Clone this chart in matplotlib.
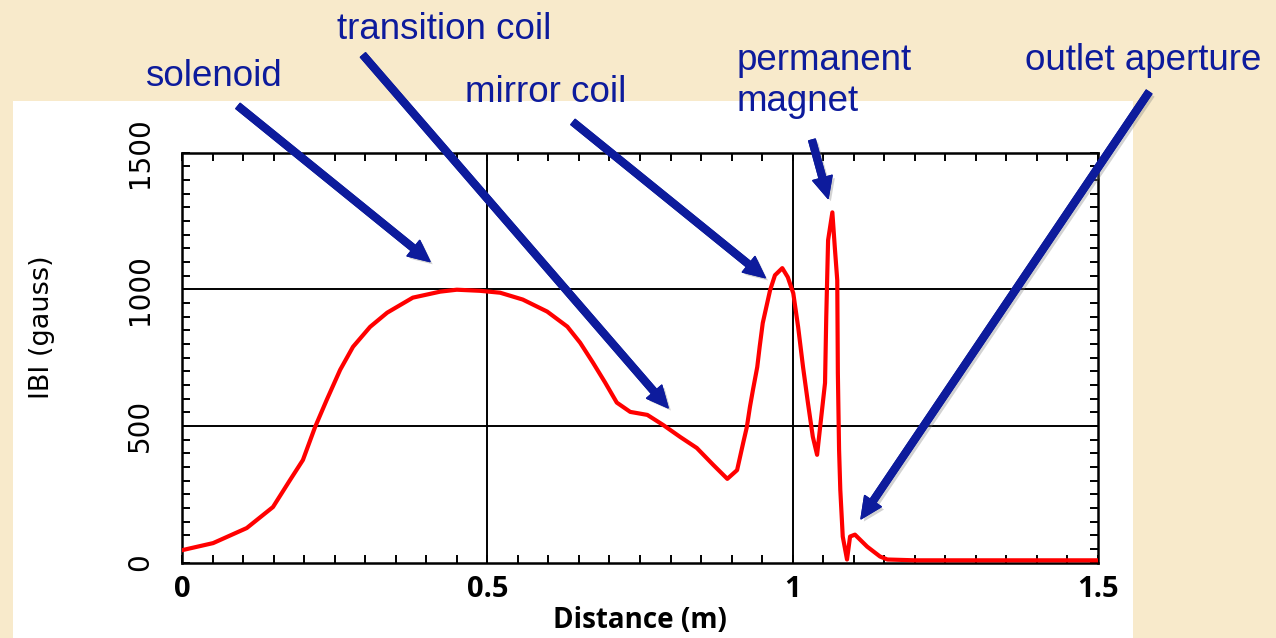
import matplotlib
matplotlib.use("Agg")
import matplotlib.pyplot as plt
from matplotlib.patches import Rectangle, FancyArrowPatch
from matplotlib.ticker import MultipleLocator, FixedLocator
import matplotlib.patheffects as pe

# ---- data ----
distance_m = [0, 0.051, 0.106, 0.149, 0.177, 0.198, 0.218, 0.237, 0.259, 0.280,
              0.308, 0.336, 0.378, 0.423, 0.450, 0.488, 0.521, 0.558, 0.598, 0.631,
              0.652, 0.673, 0.693, 0.712, 0.734, 0.762, 0.788, 0.816, 0.843, 0.870,
              0.893, 0.909, 0.919, 0.925, 0.930, 0.935, 0.942, 0.946, 0.951, 0.963,
              0.971, 0.983, 0.992, 1.001, 1.009, 1.017, 1.025, 1.033, 1.040, 1.045,
              1.053, 1.055, 1.058, 1.065, 1.069, 1.073, 1.074, 1.076, 1.078, 1.082,
              1.089, 1.094, 1.102, 1.122, 1.143, 1.155, 1.200, 1.500]
field_gauss = [45, 71, 126, 203, 302, 375, 496, 595, 705, 789,
               862, 914, 969, 991, 998, 994, 987, 962, 918, 863,
               804, 731, 658, 585, 551, 540, 503, 459, 419, 357,
               306, 338, 438, 496, 569, 632, 715, 790, 876, 996,
               1051, 1077, 1044, 985, 861, 715, 584, 460, 394, 496,
               657, 898, 1179, 1281, 1153, 1033, 693, 412, 266, 95,
               11, 95, 102, 58, 22, 11, 8, 8]

x_ticks = [0, 0.5, 1, 1.5]
x_ticklabels = ["0", "0.5", "1", "1.5"]
y_ticks = [0, 500, 1000, 1500]
y_ticklabels = ["0", "500", "1000", "1500"]

# annotation labels: text and arrow tip in data coordinates
labels = ["solenoid", "transition coil", "mirror coil", "permanent\nmagnet", "outlet aperture"]
tips_x = [0.406, 0.796, 0.955, 1.058, 1.112]
tips_y = [1101, 566, 1042, 1332, 160]

W, H = 1276, 638
fig = plt.figure(figsize=(W / 100, H / 100), dpi=100)
fig.patch.set_facecolor("#f8eacb")

def fp(x, y):
    return (x / W, 1 - y / H)

# white panel behind the chart
fig.patches.append(Rectangle(fp(13, 638), 1120 / W, 537 / H, transform=fig.transFigure,
                             facecolor="white", edgecolor="none", zorder=-5))

ax = fig.add_axes([182 / W, 1 - 562.5 / H, (1098 - 182) / W, (562.5 - 152.5) / H])
ax.set_zorder(1)
ax.set_facecolor("white")
ax.plot(distance_m, field_gauss, color="#ff0000", lw=3.0, solid_joinstyle="round", zorder=3)
ax.set_xlim(0, 1.5)
ax.set_ylim(0, 1500)

for v in [0.5, 1.0]:
    ax.axvline(v, color="black", lw=1.4, zorder=2)
for v in [500, 1000]:
    ax.axhline(v, color="black", lw=1.4, zorder=2)

for s in ax.spines.values():
    s.set_linewidth(1.8)
    s.set_color("black")

ax.xaxis.set_major_locator(FixedLocator(x_ticks))
ax.yaxis.set_major_locator(FixedLocator(y_ticks))
ax.xaxis.set_minor_locator(MultipleLocator(0.05))
ax.yaxis.set_minor_locator(MultipleLocator(50))
ax.set_xticklabels(x_ticklabels, fontfamily="Open Sans", fontweight="bold", fontsize=21)
ax.set_yticklabels(y_ticklabels, fontfamily="DejaVu Sans", fontsize=20, rotation=90, va="center")
ax.tick_params(which="both", direction="in", length=5.5, width=1.4, top=True, right=True,
               color="black")
ax.tick_params(axis="x", which="major", pad=9)
ax.tick_params(axis="y", which="major", pad=20)

fig.text(*fp(640, 621), "Distance (m)", fontfamily="Open Sans", fontweight="bold",
         fontsize=20, ha="center", va="center")
fig.text(*fp(42, 327), "IBI (gauss)", fontfamily="DejaVu Sans", fontsize=19.5,
         rotation=90, ha="center", va="center")

navy = "#0d1b9c"
text_pos = [(145, 86), (337, 39), (465, 102), (737, 70), (1025, 70)]
tails = [(238, 106), (363, 55), (573, 122), (812, 140), (1149, 92)]
line_step = 41
for lab, (tx, ty), (sx, sy), hx, hy in zip(labels, text_pos, tails, tips_x, tips_y):
    for i, line in enumerate(lab.split("\n")):
        fig.text(*fp(tx, ty + i * line_step), line, fontfamily="Liberation Sans", fontsize=26.5,
                 color=navy, ha="left", va="baseline", zorder=5)
    tip = fig.transFigure.inverted().transform(ax.transData.transform((hx, hy)))
    arr = FancyArrowPatch(posA=fp(sx, sy), posB=tip, transform=fig.transFigure,
                          arrowstyle="simple,head_length=0.85,head_width=0.8,tail_width=0.27",
                          mutation_scale=18, color=navy, shrinkA=0, shrinkB=0, zorder=6)
    arr.set_path_effects([pe.withSimplePatchShadow(offset=(2, -2), shadow_rgbFace="gray", alpha=0.35),
                          pe.Normal()])
    fig.patches.append(arr)

fig.savefig("out.png", dpi=100, facecolor=fig.get_facecolor())
